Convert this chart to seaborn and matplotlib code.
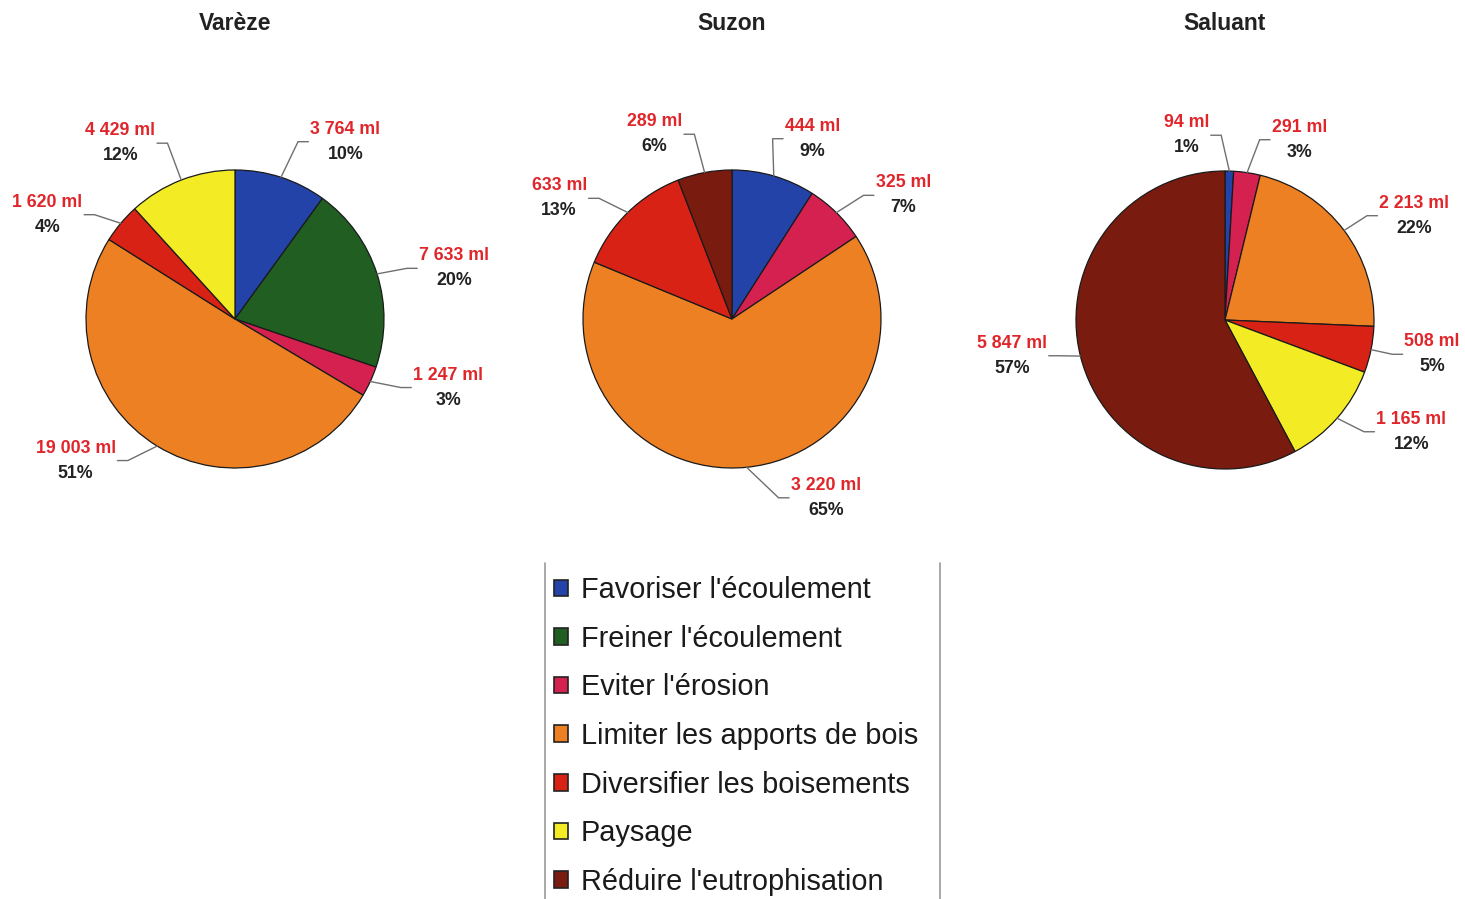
import numpy as np
import matplotlib
matplotlib.use("Agg")
import matplotlib.pyplot as plt
import seaborn as sns
from matplotlib.patches import Patch
from matplotlib.lines import Line2D

# ---------------- data ----------------
categories = ["Favoriser l'écoulement", "Freiner l'écoulement", "Eviter l'érosion",
              "Limiter les apports de bois", "Diversifier les boisements", "Paysage",
              "Réduire l'eutrophisation"]
sites = ["Varèze", "Suzon", "Saluant"]

varize_ml = [3764, 7633, 1247, 19003, 1620, 4429, 0]
suzon_ml = [444, 0, 325, 3220, 633, 0, 289]
saluant_ml = [94, 0, 291, 2213, 508, 1165, 5847]

varize_pct = [10, 20, 3, 51, 4, 12, 0]
suzon_pct = [9, 0, 7, 65, 13, 0, 6]
saluant_pct = [1, 0, 3, 22, 5, 12, 57]

ml_values = [varize_ml, suzon_ml, saluant_ml]
pct_values = [varize_pct, suzon_pct, saluant_pct]

# ---------------- style / layout ----------------
colors = ["#2343A8", "#215E22", "#D42150", "#EE8024", "#D92216", "#F3EC25", "#7A1B0F"]

# label block centres, in pie-radius units relative to the pie centre
label_pos = [
    [(0.74, 1.19), (1.47, 0.34), (1.43, -0.46), (-1.07, -0.95), (-1.26, 0.70), (-0.77, 1.18), None],
    [(0.54, 1.21), None, (1.15, 0.83), (0.63, -1.20), (-1.16, 0.81), None, (-0.52, 1.24)],
    [(-0.26, 1.24), None, (0.50, 1.21), (1.27, 0.70), (1.39, -0.23), (1.25, -0.75), (-1.43, -0.24)],
]

W, H = 1465, 899
R_PX = 149
L = 1.8
centers_px = [(235, 319), (732, 319), (1225, 320)]

sns.set_theme(style="white")
plt.rcParams["font.family"] = ["Liberation Sans", "DejaVu Sans"]

fig = plt.figure(figsize=(W / 100, H / 100), dpi=100)
fig.patch.set_facecolor("white")

RED = "#E0262B"
DARK = "#222222"
LEADER = "#6f6f6f"

records = []
for s, site in enumerate(sites):
    cx, cy = centers_px[s]
    size = 2 * L * R_PX
    ax = fig.add_axes([(cx - size / 2) / W, (H - cy - size / 2) / H, size / W, size / H])
    vals = np.array(ml_values[s], dtype=float)
    idx = [i for i, v in enumerate(vals) if v > 0]
    wedges, _ = ax.pie(vals[idx], colors=[colors[i] for i in idx], startangle=90,
                       counterclock=False, radius=1,
                       wedgeprops=dict(edgecolor="#1a1a1a", linewidth=0.9))
    ax.set_xlim(-L, L)
    ax.set_ylim(-L, L)
    ax.set_aspect("equal")
    ax.axis("off")
    ax.patch.set_alpha(0)

    for w, i in zip(wedges, idx):
        lx, ly = label_pos[s][i]
        vtxt = f"{int(ml_values[s][i]):,}".replace(",", " ") + " ml"
        t1 = ax.annotate(vtxt, xy=(lx, ly), xytext=(0, 9), textcoords="offset points",
                         ha="center", va="center", color=RED, fontweight="bold",
                         fontsize=12.8, annotation_clip=False)
        t2 = ax.annotate(f"{pct_values[s][i]}%", xy=(lx, ly), xytext=(0, -9),
                         textcoords="offset points", ha="center", va="center",
                         color=DARK, fontweight="bold", fontsize=12.8,
                         annotation_clip=False)
        mid = np.deg2rad((w.theta1 + w.theta2) / 2)
        records.append((ax, (np.cos(mid), np.sin(mid)), (lx, ly), t1, t2))

    fig.text(cx / W, 1 - 24 / H, site, ha="center", va="center", fontsize=16.5,
             fontweight="bold", color=DARK)

# leader lines
fig.canvas.draw()
renderer = fig.canvas.get_renderer()
for ax, (ex, ey), (lx, ly), t1, t2 in records:
    inv = ax.transData.inverted()
    b1 = t1.get_window_extent(renderer)
    b2 = t2.get_window_extent(renderer)
    x0 = min(b1.x0, b2.x0)
    x1 = max(b1.x1, b2.x1)
    (dx0, _), (dx1, _) = inv.transform([(x0, 0), (x1, 0)])
    gap, seg = 0.012, 0.07
    if lx >= ex:
        attach = dx0 - gap
        elbow = attach - seg
    else:
        attach = dx1 + gap
        elbow = attach + seg
    ax.plot([ex, elbow, attach], [ey, ly, ly], color=LEADER, lw=1.0, clip_on=False,
            solid_joinstyle="miter")

# legend
handles = [Patch(facecolor=c, edgecolor="#222222", linewidth=1.2, label=cat)
           for c, cat in zip(colors, categories)]
fig.legend(handles=handles, loc="upper left", bbox_to_anchor=(554 / W, 1 - 576 / H),
           frameon=False, fontsize=20.8, handlelength=0.5, handleheight=0.5,
           handletextpad=0.42, labelspacing=0.715, borderpad=0, borderaxespad=0,
           labelcolor="#1a1a1a")
for xpx in (545, 940):
    fig.add_artist(Line2D([xpx / W, xpx / W], [0, 1 - 563 / H], color="#9a9a9a",
                          lw=1.2, transform=fig.transFigure))

fig.savefig("out.png", dpi=100)
